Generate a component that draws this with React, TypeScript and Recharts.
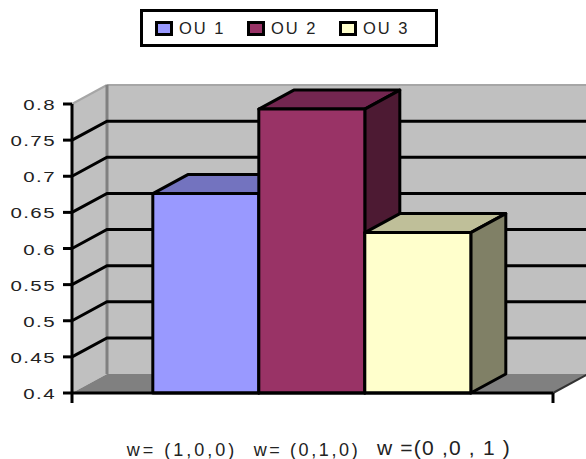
import React from 'react';
import { BarChart, Bar, XAxis, YAxis, Legend, ReferenceArea } from 'recharts';

const seriesNames = ['OU 1', 'OU 2', 'OU 3'];
const seriesValues = [0.676, 0.793, 0.622];
const fills = ['#9999FF', '#993366', '#FFFFCC'];
const topFills = ['#7373BF', '#732650', '#BFBF99'];
const sideFills = ['#4D4D80', '#4D1A33', '#808066'];
const yTicks = [0.4, 0.45, 0.5, 0.55, 0.6, 0.65, 0.7, 0.75, 0.8];
const gridValues = [0.45, 0.5, 0.55, 0.6, 0.65, 0.7, 0.75];
const weightLabels = ['w= (1,0,0)', 'w= (0,1,0)', 'w =(0 ,0 , 1 )'];
const weightLabelX = [182, 307, 444];
const weightLabelY = [456, 456, 455];
const weightLabelSize = [18, 18, 21];
const weightLabelSpacing = [3, 2.6, 1.2];

const data = [{ name: 'w', ou1: seriesValues[0], ou2: seriesValues[1], ou3: seriesValues[2] }];

const DX = 35;
const DY = 19;
const FONT = '"Liberation Sans", Arial, sans-serif';

const barShape = (i: number) => (p: any) => {
  const { x, y, width, height } = p;
  const common = { stroke: '#000', strokeWidth: 3, strokeLinejoin: 'round' as const };
  return (
    <g>
      <polygon points={`${x},${y} ${x + DX},${y - DY} ${x + width + DX},${y - DY} ${x + width},${y}`} fill={topFills[i]} {...common} />
      <polygon points={`${x + width},${y} ${x + width + DX},${y - DY} ${x + width + DX},${y + height - DY} ${x + width},${y + height}`} fill={sideFills[i]} {...common} />
      <rect x={x} y={y} width={width} height={height} fill={fills[i]} {...common} />
    </g>
  );
};

const Walls = (p: any) => {
  const { x, y, width, height } = p;
  const b = y + height;
  const r = x + width;
  return (
    <g>
      <rect x={x + DX} y={y - DY} width={width} height={height} fill="#C0C0C0" />
      <polygon points={`${x},${y} ${x + DX},${y - DY} ${x + DX},${b - DY} ${x},${b}`} fill="#C0C0C0" />
      <polygon points={`${x},${b} ${x + DX},${b - DY} ${r + DX},${b - DY} ${r},${b}`} fill="#808080" />
      <line x1={x + DX} y1={y - DY} x2={r + DX} y2={y - DY} stroke="#A6A6A6" strokeWidth={2} />
      <line x1={x} y1={y} x2={x + DX} y2={y - DY} stroke="#A6A6A6" strokeWidth={2} />
      <line x1={x + DX} y1={y - DY} x2={x + DX} y2={b - DY} stroke="#808080" strokeWidth={3} />
      <line x1={r} y1={b} x2={r + DX} y2={b - DY} stroke="#333" strokeWidth={2} />
    </g>
  );
};

const GridShape = (p: any) => {
  const { x, y, width } = p;
  return (
    <polyline
      points={`${x},${y} ${x + DX},${y - DY} ${x + width + DX},${y - DY}`}
      fill="none"
      stroke="#000"
      strokeWidth={3}
    />
  );
};

const YTick = (p: any) => {
  const { x, y, payload } = p;
  return (
    <text
      transform={`translate(${x + 1},${y + 6}) scale(1.32,1)`}
      textAnchor="end"
      fontFamily={FONT}
      fontSize={15.5}
      letterSpacing={1.1}
      fill="#222"
    >
      {payload.value}
    </text>
  );
};

const XTick = () => (
  <g>
    <line x1={72} y1={393} x2={72} y2={403} stroke="#000" strokeWidth={3} />
    <line x1={553} y1={393} x2={553} y2={403} stroke="#000" strokeWidth={3} />
    {weightLabels.map((t, i) => (
      <text
        key={t}
        x={weightLabelX[i]}
        y={weightLabelY[i]}
        textAnchor="middle"
        fontFamily={FONT}
        fontSize={weightLabelSize[i]}
        letterSpacing={weightLabelSpacing[i]}
        fill="#222"
      >
        {t}
      </text>
    ))}
  </g>
);

const LegendBox = ({ payload }: any) => (
  <div
    style={{
      boxSizing: 'border-box',
      width: 298,
      height: 38,
      border: '3px solid #000',
      background: '#fff',
      display: 'flex',
      alignItems: 'center',
      paddingLeft: 12,
      fontFamily: FONT,
      fontSize: 16.5,
      letterSpacing: 2,
      color: '#222',
    }}
  >
    {(payload || []).map((e: any) => (
      <div key={e.value} style={{ display: 'flex', alignItems: 'center', width: 92 }}>
        <span
          style={{
            boxSizing: 'border-box',
            display: 'inline-block',
            width: 18,
            height: 15,
            border: '3px solid #000',
            background: e.color,
            marginRight: 6,
          }}
        />
        <span>{e.value}</span>
      </div>
    ))}
  </div>
);

export default function App() {
  return (
    <div style={{ position: 'absolute', left: 0, top: 0, width: 586, height: 459, overflow: 'hidden', background: '#fff' }}>
      <BarChart
        width={586}
        height={459}
        data={data}
        margin={{ top: 104, right: 33, bottom: 0, left: 0 }}
        barGap={0}
        barCategoryGap="16.8%"
      >
        <ReferenceArea x1="w" x2="w" y1={0.4} y2={0.8} shape={Walls} ifOverflow="visible" />
        {gridValues.map((v) => (
          <ReferenceArea key={v} x1="w" x2="w" y1={v} y2={v} shape={GridShape} ifOverflow="visible" />
        ))}
        <XAxis
          dataKey="name"
          height={66}
          tickLine={false}
          tick={XTick}
          axisLine={{ stroke: '#000', strokeWidth: 3 }}
        />
        <YAxis
          width={72}
          domain={[0.4, 0.8]}
          ticks={yTicks}
          interval={0}
          tickSize={9}
          tickMargin={8}
          axisLine={{ stroke: '#000', strokeWidth: 3 }}
          tickLine={{ stroke: '#000', strokeWidth: 3 }}
          tick={YTick}
        />
        <Legend
          layout="horizontal"
          align="center"
          verticalAlign="middle"
          content={LegendBox}
          wrapperStyle={{ position: 'absolute', left: 140, top: 9, width: 298, height: 38 }}
        />
        <Bar dataKey="ou1" name={seriesNames[0]} fill={fills[0]} isAnimationActive={false} shape={barShape(0)} />
        <Bar dataKey="ou2" name={seriesNames[1]} fill={fills[1]} isAnimationActive={false} shape={barShape(1)} />
        <Bar dataKey="ou3" name={seriesNames[2]} fill={fills[2]} isAnimationActive={false} shape={barShape(2)} />
      </BarChart>
    </div>
  );
}
